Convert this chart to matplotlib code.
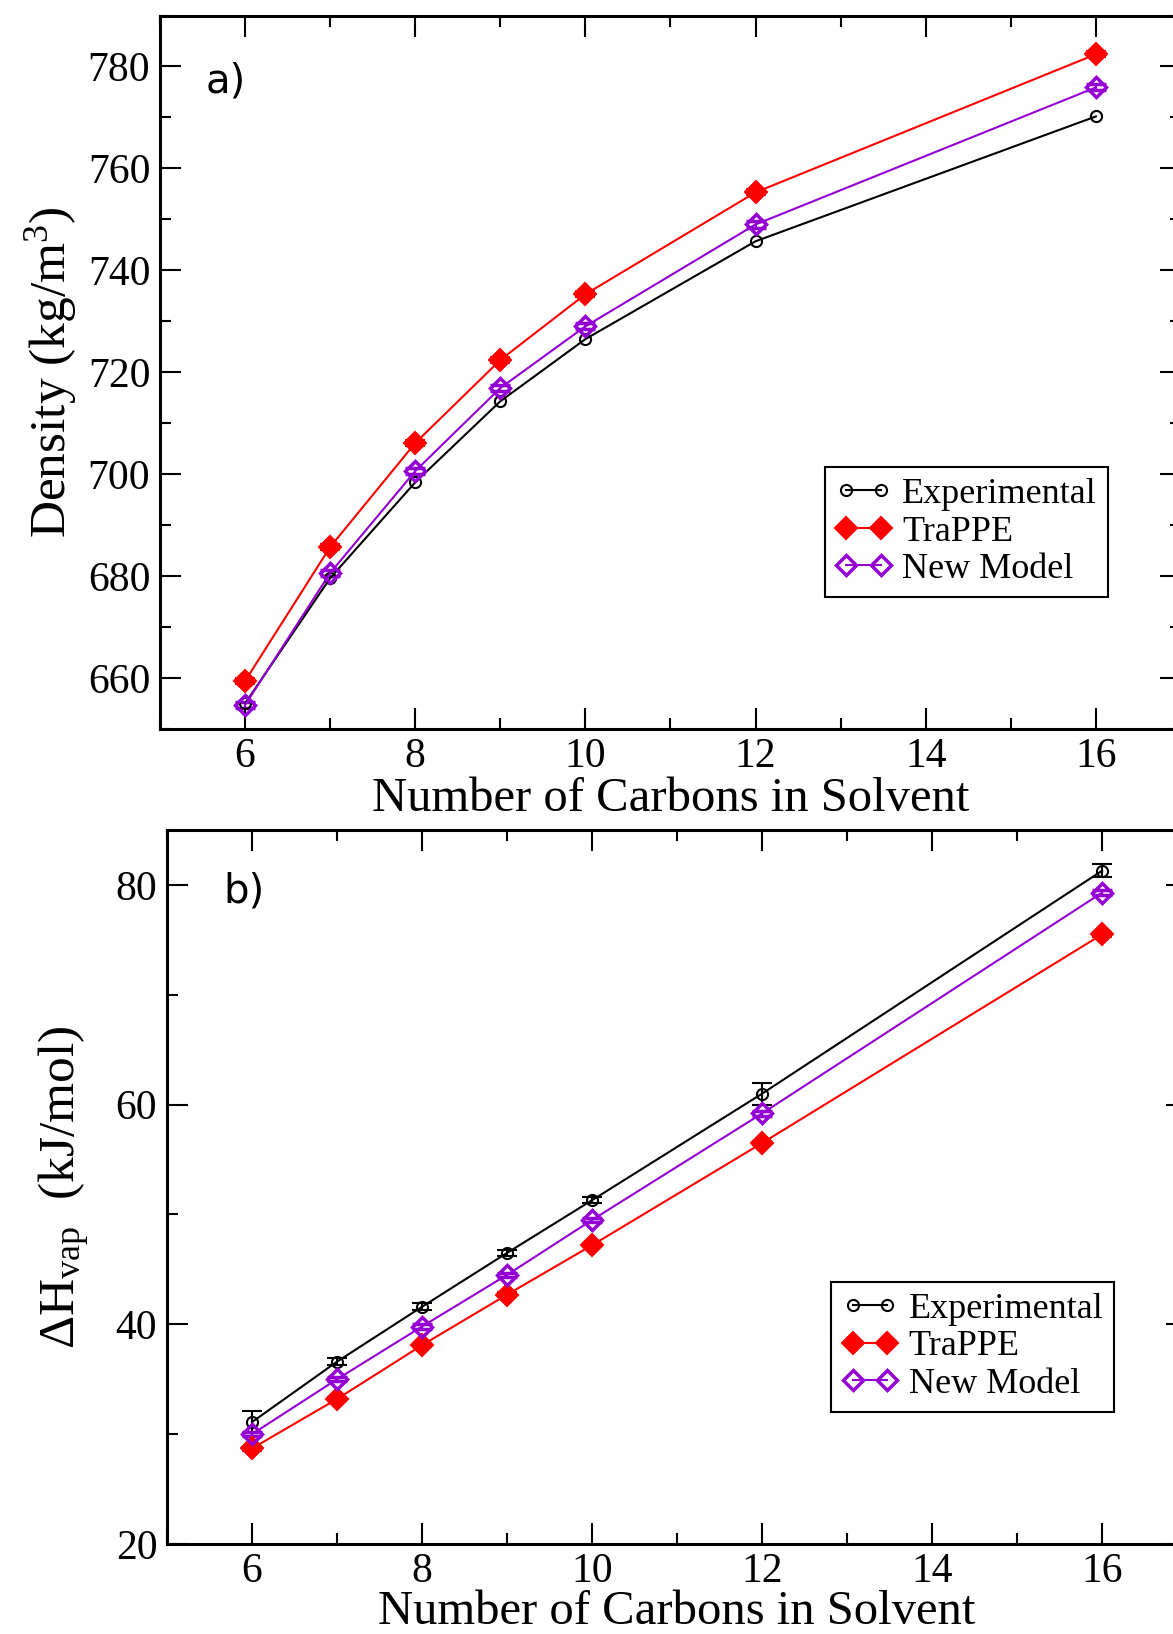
import matplotlib
matplotlib.use('Agg')
import matplotlib.pyplot as plt
from matplotlib.ticker import MultipleLocator

# carbon number of the alkane solvent
carbons = [6, 7, 8, 9, 10, 12, 16]

# a) density (kg/m^3)
dens_exp = [655.0, 679.6, 698.4, 714.3, 726.5, 745.7, 770.2]
dens_trappe = [659.4, 685.7, 706.1, 722.4, 735.3, 755.3, 782.4]
dens_trappe_err = [0.6, 0.6, 0.6, 0.6, 0.6, 0.6, 0.6]
dens_new = [654.7, 680.6, 700.6, 716.9, 729.0, 749.0, 775.9]
dens_new_err = [0.6, 0.6, 0.6, 0.6, 0.6, 0.6, 0.6]

# b) heat of vaporisation (kJ/mol)
hvap_exp = [31.1, 36.6, 41.6, 46.5, 51.3, 61.0, 81.3]
hvap_exp_err = [1.0, 0.3, 0.3, 0.3, 0.3, 1.0, 0.6]
hvap_trappe = [28.7, 33.2, 38.1, 42.7, 47.2, 56.5, 75.5]
hvap_trappe_err = [0.2, 0.2, 0.2, 0.2, 0.2, 0.2, 0.2]
hvap_new = [30.0, 35.0, 39.8, 44.5, 49.5, 59.2, 79.3]
hvap_new_err = [0.2, 0.2, 0.2, 0.2, 0.2, 0.2, 0.2]

series_labels = ['Experimental', 'TraPPE', 'New Model']
purple = '#9400d3'

plt.rcParams['font.family'] = 'Liberation Serif'
plt.rcParams['mathtext.fontset'] = 'custom'
plt.rcParams['mathtext.rm'] = 'Liberation Serif'
plt.rcParams['mathtext.it'] = 'Liberation Serif:italic'

fig = plt.figure(figsize=(11.73, 16.34), dpi=100)
ax_a = fig.add_axes([0.1364, 0.5539, 0.8704, 0.4366])
ax_b = fig.add_axes([0.1424, 0.0551, 0.8696, 0.4369])


def draw(ax, exp, exp_err, trappe, trappe_err, new, new_err):
    c1 = ax.errorbar(carbons, exp, yerr=exp_err, color='black', lw=1.5, marker='o', ms=8,
                     mfc='none', mec='black', mew=1.5, capsize=7, elinewidth=1.5,
                     capthick=1.5)
    c2 = ax.errorbar(carbons, trappe, yerr=trappe_err, color='red', lw=1.5, marker='D',
                     ms=11, mfc='red', mec='red', mew=1.5, capsize=7, elinewidth=1.5,
                     capthick=1.5)
    c3 = ax.errorbar(carbons, new, yerr=new_err, color=purple, lw=1.5, marker='D', ms=10,
                     mfc='none', mec=purple, mew=2.5, capsize=7, elinewidth=1.5,
                     capthick=1.5)
    # legend shows only line + markers, no error bars
    leg = ax.legend([c1[0], c2[0], c3[0]], series_labels, loc='lower left',
                    bbox_to_anchor=(0.651, 0.185), fontsize=26, numpoints=2,
                    fancybox=False, framealpha=1, edgecolor='black', borderpad=0.3,
                    labelspacing=0.12, handlelength=1.55, handletextpad=0.3,
                    borderaxespad=0)
    leg.get_frame().set_linewidth(1.5)


draw(ax_a, dens_exp, None, dens_trappe, dens_trappe_err, dens_new, dens_new_err)
draw(ax_b, hvap_exp, hvap_exp_err, hvap_trappe, hvap_trappe_err, hvap_new, hvap_new_err)

ax_a.set_ylim(650, 790)
ax_a.yaxis.set_major_locator(MultipleLocator(20))
ax_a.yaxis.set_minor_locator(MultipleLocator(10))
ax_b.set_ylim(20, 85)
ax_b.yaxis.set_major_locator(MultipleLocator(20))
ax_b.yaxis.set_minor_locator(MultipleLocator(10))

for ax in (ax_a, ax_b):
    ax.set_xlim(5, 17)
    ax.xaxis.set_major_locator(MultipleLocator(2))
    ax.xaxis.set_minor_locator(MultipleLocator(1))
    ax.tick_params(which='both', direction='in', top=True, right=True, width=1.5,
                   labelsize=30)
    ax.tick_params(which='major', length=15)
    ax.tick_params(which='minor', length=8)
    ax.tick_params(axis='x', pad=6)
    ax.tick_params(axis='y', pad=7)
    for s in ax.spines.values():
        s.set_linewidth(2.2)
    ax.set_xlabel('Number of Carbons in Solvent', fontsize=35)

ax_a.xaxis.set_label_coords(0.5, -0.067)
ax_b.xaxis.set_label_coords(0.5, -0.065)

ax_a.set_ylabel(r'Density (kg/m$^{3}$)', fontsize=37)
ax_a.yaxis.set_label_coords(-0.079, 0.5)
ax_b.set_ylabel(r'$\Delta$H$_{\rm vap}$  (kJ/mol)', fontsize=37)
ax_b.yaxis.set_label_coords(-0.074, 0.5)

ax_a.text(0.045, 0.908, 'a)', transform=ax_a.transAxes, fontsize=29,
          family='DejaVu Sans', va='center', ha='left')
ax_b.text(0.055, 0.914, 'b)', transform=ax_b.transAxes, fontsize=29,
          family='DejaVu Sans', va='center', ha='left')

fig.savefig('out.png', dpi=100)
